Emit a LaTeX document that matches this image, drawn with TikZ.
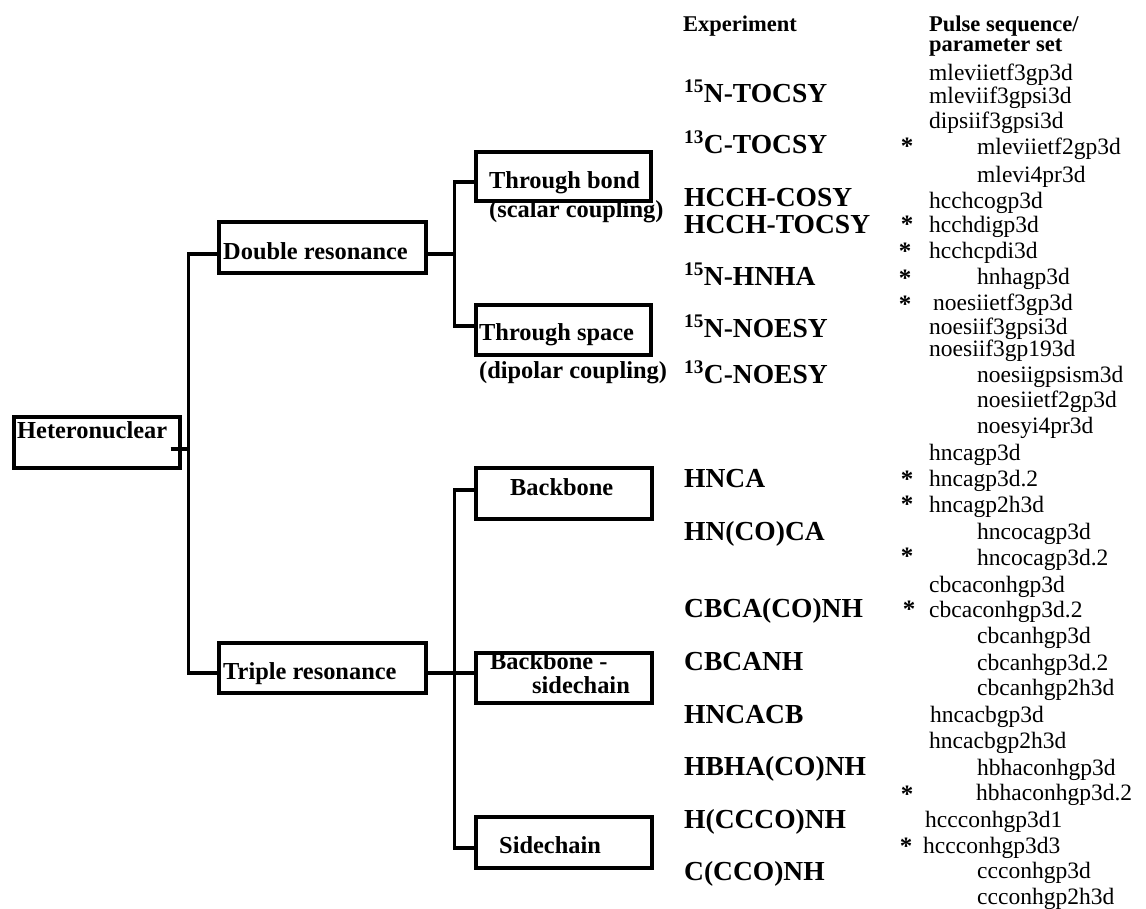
\documentclass[tikz,border=0pt]{standalone}
\usepackage{fontspec}
\setmainfont{Liberation Serif}
\begin{document}
\begin{tikzpicture}[x=1pt,y=-1pt,
  conn/.style={line width=3.3pt},
  box/.style={draw,line width=3.3pt,minimum width=#1,minimum height=50pt,inner sep=0pt},
  lbl/.style={anchor=base west,inner sep=0pt,font=\fontsize{24.4}{28}\selectfont\bfseries},
  hdr/.style={anchor=base west,inner sep=0pt,font=\fontsize{22.5}{26}\selectfont\bfseries},
  expt/.style={anchor=base west,inner sep=0pt,font=\fontsize{27.5}{32}\selectfont\bfseries},
  pulse/.style={anchor=base west,inner sep=0pt,font=\fontsize{23.5}{28}\selectfont},
  astk/.style={anchor=base,inner sep=0pt,font=\fontsize{25}{28}\selectfont\bfseries}]
\fill[white] (0,0) rectangle (1146,908);
\useasboundingbox (0,0) rectangle (1146,908);
% boxes
\node[box=166pt,minimum height=51pt] (het) at (97,442.5) {};
\node[box=207pt,minimum height=51pt] (dbl) at (322.5,247.5) {};
\node[box=207pt] (trp) at (322.5,668) {};
\node[box=175pt,minimum height=49pt] (tb) at (563.5,176.5) {};
\node[box=175pt] (ts) at (563.5,330) {};
\node[box=176pt,minimum height=51pt] (bb) at (564,493.5) {};
\node[box=176pt] (bbs) at (564,678) {};
\node[box=176pt,minimum height=51pt] (sc) at (564,842.5) {};
% box labels
\node[lbl] (hetT) at (17,438) {Heteronuclear};
\node[lbl] (dblT) at (223,259) {Double resonance};
\node[lbl] (trpT) at (223,679) {Triple resonance};
\node[lbl] (tbT) at (489,188) {Through bond};
\node[lbl] (tbS) at (489,217) {(scalar coupling)};
\node[lbl] (tsT) at (479,340) {Through space};
\node[lbl] (tsS) at (479,378) {(dipolar coupling)};
\node[lbl] (bbT) at (510,495) {Backbone};
\node[lbl] (bbsT) at (490,669) {Backbone -};
\node[lbl] (bbsS) at (532,693) {sidechain};
\node[lbl] (scT) at (499,853) {Sidechain};
% connectors
\coordinate (hj) at (190,449);
\draw[conn] ([yshift=-6.5pt]dbl.west) -- ++(-29,0) |- ([yshift=-5pt]trp.west);
\draw[conn] ([xshift=-11pt,yshift=-6.5pt]het.east) -- (hj);
\draw[conn] ([yshift=-6.5pt]dbl.east) -- ([yshift=-6.5pt]dbl.east -| 456,0);
\draw[conn] ([yshift=-5.5pt]tb.west) -- ++(-20,0) |- ([yshift=4pt]ts.west);
\draw[conn] ([yshift=-5pt]trp.east) -- ([yshift=-5pt]trp.east -| bbs.west);
\draw[conn] ([yshift=3.5pt]bb.west) -- ++(-20,0) |- ([yshift=-5.5pt]sc.west);
% headers
\node[hdr] (h1) at (683,31) {Experiment};
\node[hdr] (h2) at (929,31) {Pulse sequence/};
\node[hdr] (h3) at (929,51.5) {parameter set};
% experiments
\foreach \y/\t [count=\i] in {
  102/{\textsuperscript{15}N-TOCSY},
  153/{\textsuperscript{13}C-TOCSY},
  206/{HCCH-COSY},
  233/{HCCH-TOCSY},
  285/{\textsuperscript{15}N-HNHA},
  337/{\textsuperscript{15}N-NOESY},
  383/{\textsuperscript{13}C-NOESY},
  487/{HNCA},
  540/{HN(CO)CA},
  617/{CBCA(CO)NH},
  670/{CBCANH},
  723/{HNCACB},
  775/{HBHA(CO)NH},
  828/{H(CCCO)NH},
  880/{C(CCO)NH}}
  \node[expt] (e\i) at (684,\y) {\t};
% pulse sequences
\foreach \x/\y/\t [count=\i] in {
  929/80.5/mleviietf3gp3d,
  929/103/mleviif3gpsi3d,
  929/128/dipsiif3gpsi3d,
  977/154/mleviietf2gp3d,
  977/182/mlevi4pr3d,
  929/208/hcchcogp3d,
  929/232/hcchdigp3d,
  929/258/hcchcpdi3d,
  977/284/hnhagp3d,
  933/310/noesiietf3gp3d,
  929/334/noesiif3gpsi3d,
  929/356/noesiif3gp193d,
  977/382/noesiigpsism3d,
  977/407/noesiietf2gp3d,
  977/433/noesyi4pr3d,
  929/460/hncagp3d,
  929/486/hncagp3d.2,
  929/512/hncagp2h3d,
  977/539/hncocagp3d,
  977/565/hncocagp3d.2,
  929/592/cbcaconhgp3d,
  929/617/cbcaconhgp3d.2,
  977/643/cbcanhgp3d,
  977/670/cbcanhgp3d.2,
  977/695/cbcanhgp2h3d,
  930/722/hncacbgp3d,
  929/748/hncacbgp2h3d,
  977/775/hbhaconhgp3d,
  976/800/hbhaconhgp3d.2,
  925/827/hccconhgp3d1,
  923/853/hccconhgp3d3,
  977/878/ccconhgp3d,
  977/904/ccconhgp2h3d}
  \node[pulse] (p\i) at (\x,\y) {\t};
% asterisks
\foreach \x/\y [count=\i] in {907/154,907/232,905/259,905/286,905/312,907/487,907/512,907/564,909/617,907/802,906/854}
  \node[astk] (a\i) at (\x,\y) {*};
\end{tikzpicture}
\end{document}
